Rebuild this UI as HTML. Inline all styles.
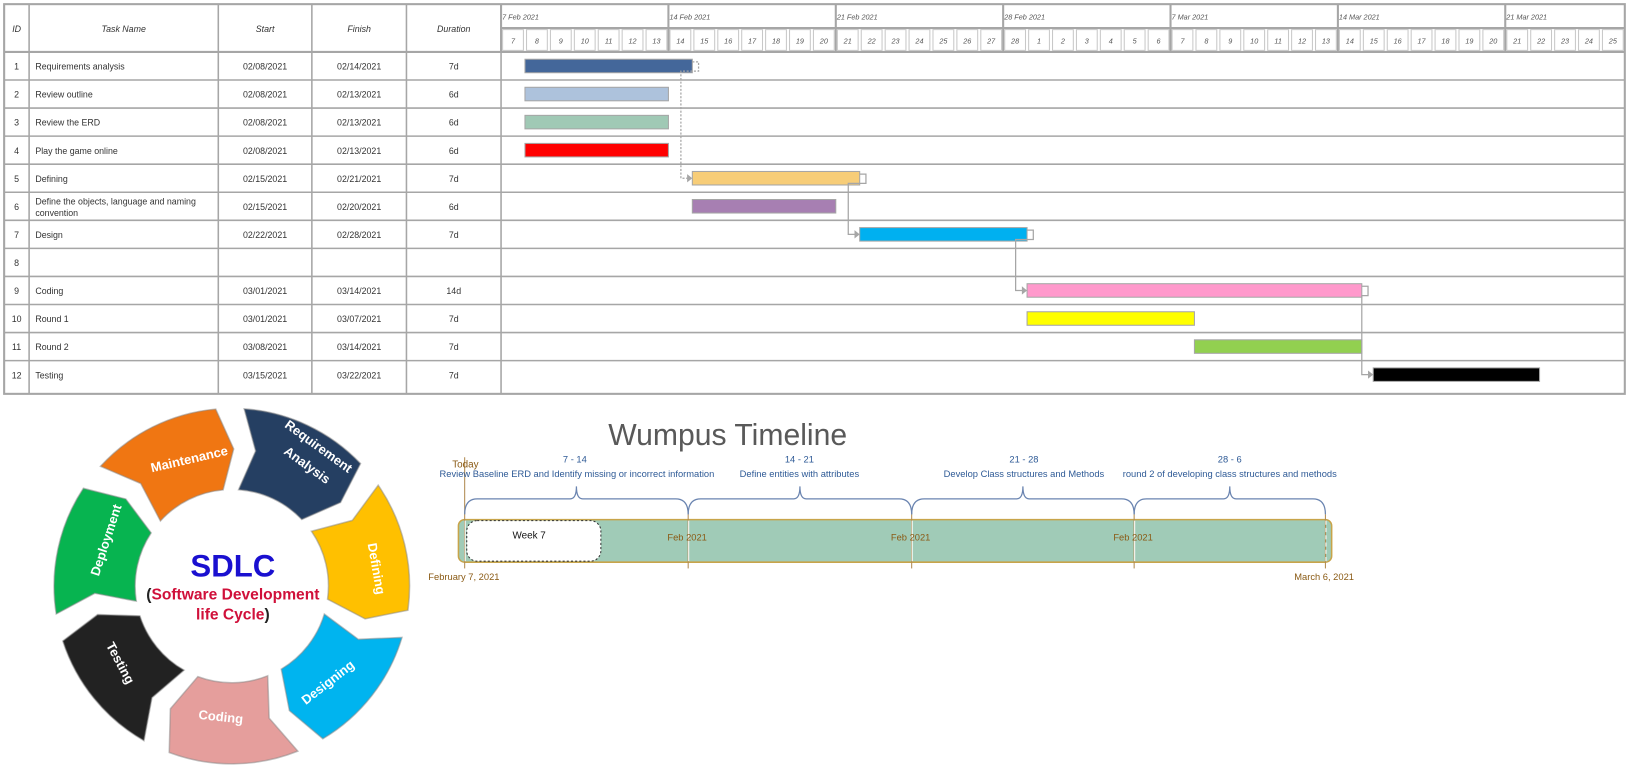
<!DOCTYPE html>
<html><head><meta charset="utf-8">
<style>
html,body{margin:0;padding:0;background:#fff;width:1630px;height:768px;overflow:hidden}
#w{position:absolute;left:0;top:0;width:1568px;height:739px;transform:scale(1.03954,1.0392);transform-origin:0 0;font-family:"Liberation Sans",sans-serif}
</style></head><body>
<div id="w">
<svg width="1568" height="739" viewBox="0 0 1568 739" style="position:absolute;left:0;top:0" font-family="Liberation Sans, sans-serif">
<g id="tbl"></g>
<g id="sdlc"></g>
<g id="tl"></g>
<g fill="#fff" font-weight="bold" font-size="12.5" text-anchor="middle">
<text transform="translate(183,446) rotate(-13)">Maintenance</text>
<text transform="translate(304,433) rotate(36)">Requirement</text>
<text transform="translate(293,451) rotate(36)">Analysis</text>
<text transform="translate(358,548) rotate(80)">Defining</text>
<text transform="translate(318,660) rotate(-38)">Designing</text>
<text transform="translate(212,694) rotate(6)">Coding</text>
<text transform="translate(112,640) rotate(62)">Testing</text>
<text transform="translate(106,521) rotate(-72)">Deployment</text>
</g>
<text x="224" y="555" text-anchor="middle" font-size="30" font-weight="bold" fill="#1a10d0">SDLC</text>
<text x="224" y="577" text-anchor="middle" font-size="15" font-weight="bold" fill="#d0103a"><tspan fill="#222">(</tspan>Software Development</text>
<text x="224" y="596" text-anchor="middle" font-size="15" font-weight="bold" fill="#d0103a">life Cycle<tspan fill="#222">)</tspan></text>
<text x="700" y="428" text-anchor="middle" font-size="29" fill="#595959">Wumpus Timeline</text>
<text x="435" y="450" font-size="9.5" fill="#8a5a14">Today</text>
<g font-size="9" fill="#2e5a96" text-anchor="middle">
<text x="553" y="445">7 - 14</text>
<text x="555" y="459">Review Baseline ERD and Identify missing or incorrect information</text>
<text x="769" y="445">14 - 21</text>
<text x="769" y="459">Define entities with attributes</text>
<text x="985" y="445">21 - 28</text>
<text x="985" y="459">Develop Class structures and Methods</text>
<text x="1183" y="445">28 - 6</text>
<text x="1183" y="459">round 2 of developing class structures and methods</text>
</g>
<g font-size="9" fill="#8a5a14">
<text x="412" y="558">February 7, 2021</text>
<text x="1245" y="558">March 6, 2021</text>
<text x="642" y="520">Feb 2021</text>
<text x="857" y="520">Feb 2021</text>
<text x="1071" y="520">Feb 2021</text>
</g>
<text x="509" y="518" font-size="9.5" fill="#111" text-anchor="middle">Week 7</text>
</svg>
</div>
<script>
var NS="http://www.w3.org/2000/svg";
function el(p,t,a,txt){var e=document.createElementNS(NS,t);for(var k in a)e.setAttribute(k,a[k]);if(txt!==undefined)e.textContent=txt;p.appendChild(e);return e;}
var T=document.getElementById('tbl');
el(T,'rect',{x:4,y:4,width:1559,height:375,fill:'#fff',stroke:'#a6a6a6','stroke-width':2});
var cols=[4,28,210,300,391,482];
cols.forEach(function(x){el(T,'line',{x1:x,y1:4,x2:x,y2:379,stroke:'#a6a6a6','stroke-width':1.5});});
var hdr=['ID','Task Name','Start','Finish','Duration'];
for(var i=0;i<5;i++)el(T,'text',{x:(cols[i]+cols[i+1])/2,y:31,'text-anchor':'middle','font-size':8.5,'font-style':'italic',fill:'#333'},hdr[i]);
el(T,'line',{x1:4,y1:50,x2:1563,y2:50,stroke:'#a6a6a6','stroke-width':2});
el(T,'line',{x1:482,y1:27,x2:1563,y2:27,stroke:'#a6a6a6','stroke-width':2});
var wk=['7 Feb 2021','14 Feb 2021','21 Feb 2021','28 Feb 2021','7 Mar 2021','14 Mar 2021','21 Mar 2021'];
for(var w=0;w<7;w++){var x=482+w*161;el(T,'line',{x1:x,y1:4,x2:x,y2:50,stroke:'#a6a6a6','stroke-width':2});el(T,'text',{x:x+1,y:19,'font-size':7,'font-style':'italic',fill:'#555'},wk[w]);}
var days=[];for(var d=7;d<=28;d++)days.push(d);for(d=1;d<=25;d++)days.push(d);
for(d=0;d<47;d++){var x=482+d*23;el(T,'rect',{x:x+1.5,y:28.5,width:20,height:20,fill:'#fff',stroke:'#c8c8c8'});el(T,'text',{x:x+11.5,y:42,'text-anchor':'middle','font-size':7,'font-style':'italic',fill:'#555'},days[d]);}
var rows=[['1','Requirements analysis','02/08/2021','02/14/2021','7d'],['2','Review outline','02/08/2021','02/13/2021','6d'],['3','Review the ERD','02/08/2021','02/13/2021','6d'],['4','Play the game online','02/08/2021','02/13/2021','6d'],['5','Defining','02/15/2021','02/21/2021','7d'],['6','Define the objects, language and naming|convention','02/15/2021','02/20/2021','6d'],['7','Design','02/22/2021','02/28/2021','7d'],['8','','','',''],['9','Coding','03/01/2021','03/14/2021','14d'],['10','Round 1','03/01/2021','03/07/2021','7d'],['11','Round 2','03/08/2021','03/14/2021','7d'],['12','Testing','03/15/2021','03/22/2021','7d']];
rows.forEach(function(r,i){var y=50+i*27;if(i>0)el(T,'line',{x1:4,y1:y,x2:1563,y2:y,stroke:'#a6a6a6','stroke-width':1.5});
var cy=y+17;el(T,'text',{x:16,y:cy,'text-anchor':'middle','font-size':8.5,fill:'#333'},r[0]);
if(r[1].indexOf('|')>=0){var p=r[1].split('|');el(T,'text',{x:34,y:y+12,'font-size':8.5,fill:'#333'},p[0]);el(T,'text',{x:34,y:y+23,'font-size':8.5,fill:'#333'},p[1]);}
else el(T,'text',{x:34,y:cy,'font-size':8.5,fill:'#333'},r[1]);
for(var c=2;c<5;c++)el(T,'text',{x:(cols[c]+cols[c+1])/2,y:cy,'text-anchor':'middle','font-size':8.5,fill:'#333'},r[c]);});
var bars=[[0,505,666,'#44679a'],[1,505,643,'#adc2dc'],[2,505,643,'#a0c9b5'],[3,505,643,'#ff0000'],[4,666,827,'#f7cd78'],[5,666,804,'#a77fb2'],[6,827,988,'#00b0f0'],[8,988,1310,'#ff99cc'],[9,988,1149,'#ffff00'],[10,1149,1310,'#92d050'],[11,1321,1481,'#000']];
bars.forEach(function(b){var y=50+b[0]*27+7;el(T,'rect',{x:b[1],y:y,width:b[2]-b[1],height:13,fill:b[3],stroke:'#a6a6a6','stroke-width':1});});
function conn(x1,r1,x2,r2,dash){var y1=50+r1*27+13.5,y2=50+r2*27+13.5;var path='M'+x1+' '+(y1-4)+' h6 v9 h-'+(x1+6-(x2-11))+' V'+y2+' h7';
var a={d:path,fill:'none',stroke:'#a6a6a6','stroke-width':1.2};if(dash)a['stroke-dasharray']='2,1.5';el(T,'path',a);
el(T,'path',{d:'M'+(x2-5)+' '+(y2-4)+' L'+x2+' '+y2+' L'+(x2-5)+' '+(y2+4)+'z',fill:'#a6a6a6'});}
conn(666,0,666,4,true);conn(827,4,827,6);conn(988,6,988,8);conn(1310,8,1321,11);
var S=document.getElementById('sdlc');var cx=223,cy=564,r1=93,r2=171,rm=132;
function P(a,r){a=a*Math.PI/180;return (cx+r*Math.sin(a)).toFixed(1)+' '+(cy-r*Math.cos(a)).toFixed(1);}
var segs=[['#253f62',2],['#ffc000',53.4],['#00b4ef',104.8],['#e59e9c',156.2],['#222',207.6],['#07b450',259],['#f07612',310.4]];
segs.forEach(function(s){var a1=s[1]+2,a2=s[1]+49.4;var d='M'+P(a1,r2)+' A'+r2+' '+r2+' 0 0 1 '+P(a2-5,r2)+' L'+P(a2+1,rm)+' L'+P(a2-5,r1)+' A'+r1+' '+r1+' 0 0 0 '+P(a1,r1)+' L'+P(a1+6,rm)+'Z';
el(S,'path',{d:d,fill:s[0],stroke:'#888','stroke-width':1.5,'stroke-opacity':0.5});});
var L=document.getElementById('tl');
el(L,'rect',{x:441,y:500,width:840,height:41,rx:6,fill:'#a0cbb7',stroke:'#c8a44a','stroke-width':1.5});
el(L,'rect',{x:449,y:501,width:129,height:39,rx:10,fill:'#fff',stroke:'#333','stroke-width':1,'stroke-dasharray':'2,2'});
[447,662,877,1091,1275].forEach(function(x,i){el(L,'line',{x1:x,y1:(i==0?440:495),x2:x,y2:547,stroke:'#b08a50','stroke-width':1});
el(L,'line',{x1:x+0.5,y1:501,x2:x+0.5,y2:540,stroke:'#fff','stroke-width':1,'stroke-dasharray':(i==4?'4,3':'none')});});
function brace(x1,x2){var m=(x1+x2)/2,y=480;el(L,'path',{d:'M'+x1+' 495 Q'+x1+' '+y+' '+(x1+12)+' '+y+' H'+(m-6)+' Q'+m+' '+y+' '+m+' 468 Q'+m+' '+y+' '+(m+6)+' '+y+' H'+(x2-12)+' Q'+x2+' '+y+' '+x2+' 495',fill:'none',stroke:'#6a84b0','stroke-width':1.2});}
brace(447,662);brace(662,877);brace(877,1091);brace(1091,1275);
</script>
</body></html>
